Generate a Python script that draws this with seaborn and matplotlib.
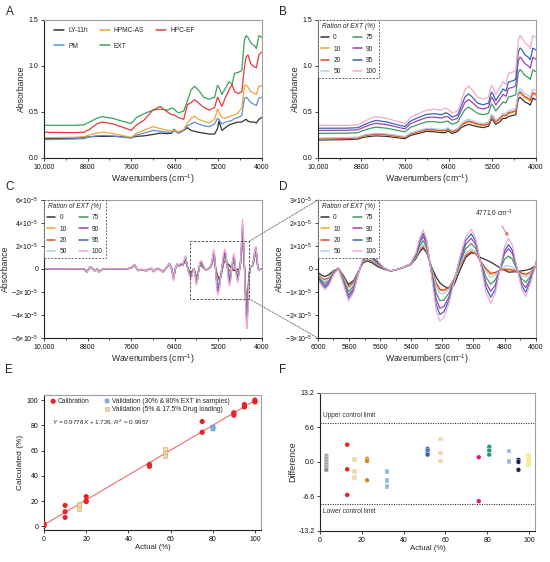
import numpy as np
import pandas as pd
import matplotlib
matplotlib.use("Agg")
import matplotlib.pyplot as plt
import matplotlib.ticker as mticker
from matplotlib.patches import Rectangle, ConnectionPatch, Patch
import seaborn as sns

sns.set_theme(style="ticks")
plt.rcParams['font.family'] = ['Liberation Sans', 'DejaVu Sans']
plt.rcParams['mathtext.fontset'] = 'custom'
plt.rcParams['mathtext.rm'] = 'Liberation Sans'
plt.rcParams['mathtext.it'] = 'Liberation Sans:italic'
plt.rcParams['mathtext.bf'] = 'Liberation Sans:bold'

# ---------------- NIR spectra (panels A, B) ----------------
wn_nir = [10000, 9200, 8900, 8750, 8550, 8400, 8100, 7800, 7600, 7450, 7250, 7000, 6800, 6600,
          6480, 6420, 6300, 6150, 6050, 5950, 5850, 5750, 5600, 5450, 5300, 5220, 5180, 5100,
          5000, 4900, 4820, 4750, 4650, 4550, 4480, 4430, 4380, 4300, 4200, 4150, 4080, 4000]

abs_ly11h = [0.21, 0.215, 0.225, 0.23, 0.235, 0.235, 0.235, 0.23, 0.22, 0.235, 0.24, 0.255, 0.27, 0.265,
             0.27, 0.31, 0.27, 0.30, 0.33, 0.30, 0.29, 0.28, 0.27, 0.26, 0.26, 0.32, 0.40, 0.30,
             0.33, 0.36, 0.37, 0.38, 0.39, 0.39, 0.41, 0.42, 0.40, 0.39, 0.39, 0.38, 0.42, 0.44]
abs_hpmcas = [0.22, 0.225, 0.23, 0.25, 0.27, 0.28, 0.265, 0.24, 0.225, 0.27, 0.30, 0.34, 0.32, 0.30,
              0.295, 0.30, 0.285, 0.31, 0.38, 0.43, 0.455, 0.42, 0.40, 0.38, 0.42, 0.535, 0.50, 0.44,
              0.43, 0.45, 0.46, 0.47, 0.49, 0.55, 0.79, 0.79, 0.77, 0.72, 0.70, 0.69, 0.78, 0.78]
abs_hpcef = [0.28, 0.275, 0.28, 0.31, 0.37, 0.39, 0.37, 0.33, 0.30, 0.36, 0.41, 0.52, 0.56, 0.50,
             0.47, 0.47, 0.44, 0.42, 0.58, 0.60, 0.635, 0.60, 0.55, 0.52, 0.55, 0.66, 0.63, 0.56,
             0.66, 0.74, 0.80, 0.72, 0.70, 0.72, 0.98, 1.10, 1.12, 1.02, 0.99, 0.98, 1.12, 1.15]
abs_pm = [0.20, 0.205, 0.21, 0.23, 0.24, 0.245, 0.24, 0.225, 0.215, 0.25, 0.27, 0.30, 0.29, 0.28,
          0.28, 0.29, 0.275, 0.30, 0.35, 0.37, 0.39, 0.37, 0.35, 0.34, 0.37, 0.43, 0.42, 0.37,
          0.39, 0.40, 0.41, 0.43, 0.44, 0.46, 0.65, 0.66, 0.64, 0.60, 0.58, 0.57, 0.65, 0.66]
abs_ext = [0.355, 0.355, 0.36, 0.39, 0.43, 0.45, 0.43, 0.395, 0.375, 0.44, 0.48, 0.52, 0.53, 0.52,
           0.545, 0.53, 0.49, 0.51, 0.62, 0.74, 0.78, 0.74, 0.66, 0.64, 0.66, 0.79, 0.77, 0.69,
           0.76, 0.83, 0.80, 0.92, 0.93, 0.95, 1.28, 1.33, 1.31, 1.25, 1.22, 1.19, 1.33, 1.31]

mix_0 = [0.195, 0.20, 0.205, 0.225, 0.235, 0.24, 0.235, 0.22, 0.21, 0.245, 0.265, 0.29, 0.285, 0.275,
         0.275, 0.295, 0.265, 0.29, 0.33, 0.35, 0.365, 0.355, 0.34, 0.33, 0.345, 0.42, 0.41, 0.365,
         0.39, 0.43, 0.43, 0.45, 0.46, 0.47, 0.64, 0.66, 0.64, 0.61, 0.59, 0.575, 0.65, 0.635]
mix_10 = [0.206, 0.211, 0.216, 0.237, 0.249, 0.255, 0.249, 0.232, 0.222, 0.259, 0.280, 0.306, 0.302, 0.292,
          0.294, 0.311, 0.281, 0.305, 0.350, 0.377, 0.394, 0.382, 0.362, 0.352, 0.367, 0.446, 0.435, 0.388,
          0.416, 0.458, 0.456, 0.483, 0.493, 0.504, 0.685, 0.707, 0.687, 0.655, 0.634, 0.618, 0.698, 0.682]
mix_20 = [0.209, 0.214, 0.219, 0.240, 0.253, 0.259, 0.253, 0.236, 0.225, 0.263, 0.284, 0.311, 0.307, 0.297,
          0.299, 0.316, 0.285, 0.310, 0.356, 0.385, 0.402, 0.390, 0.369, 0.358, 0.373, 0.453, 0.442, 0.394,
          0.423, 0.466, 0.463, 0.492, 0.502, 0.513, 0.698, 0.720, 0.700, 0.668, 0.647, 0.630, 0.711, 0.696]
mix_50 = [0.217, 0.222, 0.227, 0.248, 0.262, 0.269, 0.262, 0.245, 0.233, 0.272, 0.295, 0.322, 0.319, 0.309,
          0.313, 0.328, 0.297, 0.321, 0.371, 0.405, 0.423, 0.409, 0.385, 0.373, 0.389, 0.472, 0.460, 0.411,
          0.442, 0.486, 0.482, 0.516, 0.526, 0.537, 0.730, 0.754, 0.734, 0.700, 0.678, 0.661, 0.745, 0.730]
mix_75 = [0.267, 0.270, 0.275, 0.299, 0.323, 0.335, 0.323, 0.299, 0.284, 0.333, 0.362, 0.394, 0.395, 0.385,
          0.397, 0.401, 0.366, 0.389, 0.461, 0.526, 0.552, 0.528, 0.484, 0.470, 0.487, 0.587, 0.572, 0.511,
          0.557, 0.610, 0.597, 0.662, 0.672, 0.686, 0.928, 0.962, 0.942, 0.898, 0.874, 0.852, 0.956, 0.939]
mix_90 = [0.299, 0.301, 0.306, 0.332, 0.362, 0.377, 0.362, 0.334, 0.317, 0.372, 0.405, 0.440, 0.444, 0.434,
          0.451, 0.448, 0.411, 0.433, 0.519, 0.604, 0.635, 0.605, 0.548, 0.532, 0.550, 0.661, 0.644, 0.576,
          0.631, 0.690, 0.671, 0.756, 0.766, 0.782, 1.056, 1.096, 1.076, 1.026, 1.000, 0.975, 1.092, 1.074]
mix_95 = [0.323, 0.324, 0.329, 0.357, 0.391, 0.408, 0.391, 0.360, 0.342, 0.401, 0.437, 0.474, 0.481, 0.471,
          0.491, 0.483, 0.445, 0.466, 0.562, 0.662, 0.697, 0.663, 0.596, 0.578, 0.597, 0.716, 0.698, 0.625,
          0.686, 0.750, 0.726, 0.826, 0.836, 0.854, 1.152, 1.196, 1.176, 1.122, 1.094, 1.067, 1.194, 1.175]
mix_100 = abs_ext

# ---------------- 2nd derivative spectra (panels C, D), units of 1e-5 ----------------
wn_d2 = [10000, 9500, 9000, 8900, 8817, 8725, 8606, 8540, 8486, 8376, 8200, 7900, 7700, 7596, 7505,
         7413, 7321, 7250, 7183, 7110, 7046, 6982, 6920, 6862, 6790, 6725, 6633, 6541, 6480, 6431,
         6380, 6330, 6280, 6230, 6180, 6130, 6100, 6060, 6030,
         6000, 5975, 5955, 5930, 5900, 5868, 5835, 5803, 5770, 5740, 5710, 5685, 5655, 5620, 5580,
         5534, 5490, 5450, 5405, 5370, 5345, 5323, 5300, 5270, 5240, 5216, 5190, 5158, 5125, 5090,
         5050, 5014, 4985, 4955, 4920, 4889, 4860, 4830, 4800, 4775, 4750, 4720, 4690, 4664, 4635, 4600,
         4570, 4550, 4532, 4510, 4480, 4450, 4425, 4404, 4385, 4360, 4330, 4300, 4260, 4220, 4190,
         4165, 4140, 4110, 4080, 4040, 4000]

d2_0 = [0.00, 0.00, 0.02, 0.00, -0.22, 0.18, -0.15, 0.00, -0.22, 0.00, 0.02, 0.00, 0.02, 0.08, 0.32,
        -0.12, -0.04, -0.08, -0.16, 0.02, 0.04, -0.20, -0.04, 0.04, -0.08, -0.24, 0.08, 0.42, 0.00, -0.70,
        0.05, 0.35, 0.25, 0.38, 0.32, 0.55, 0.70, 0.30, -0.05,
        -0.15, -0.28, -0.33, -0.25, -0.08, 0.03, -0.30, -0.67, -0.50, -0.10, 0.25, 0.35, 0.28, 0.12, 0.00,
        -0.08, -0.02, 0.06, 0.18, 0.45, 0.75, 0.90, 0.70, 0.10, -0.35, -0.60, -0.75, -0.84, -0.70, -0.10,
        0.50, 0.70, 0.66, 0.50, 0.40, 0.30, 0.18, 0.05, -0.05, -0.14, -0.13, -0.12, -0.08, -0.06, 0.00, 0.14,
        0.90, 1.80, 2.30, 1.85, 0.30, -1.60, -2.50, -2.70, -2.10, -0.80, 0.00, 0.20, 0.25, 0.65, 1.20,
        1.40, 0.95, 0.15, -0.10, 0.00, 0.00]
d2_10 = [0.00, 0.00, 0.02, 0.00, -0.23, 0.18, -0.16, 0.00, -0.23, 0.00, 0.02, 0.00, 0.02, 0.08, 0.33,
         -0.12, -0.04, -0.08, -0.16, 0.02, 0.04, -0.21, -0.04, 0.04, -0.08, -0.25, 0.08, 0.43, 0.00, -0.74,
         0.05, 0.36, 0.26, 0.39, 0.33, 0.59, 0.75, 0.32, -0.07,
         -0.26, -0.41, -0.47, -0.39, -0.12, 0.03, -0.39, -0.79, -0.59, -0.13, 0.29, 0.43, 0.37, 0.21, 0.03,
         -0.09, -0.02, 0.07, 0.20, 0.53, 0.84, 0.99, 0.77, 0.04, -0.63, -0.92, -0.95, -0.82, -0.45, 0.11,
         0.60, 0.78, 0.68, 0.35, -0.01, -0.23, -0.18, -0.05, 0.01, 0.00, -0.02, -0.10, -0.20, -0.26, -0.16, 0.14,
         1.00, 2.00, 2.60, 2.10, 0.35, -1.80, -2.80, -3.00, -2.30, -0.90, 0.00, 0.20, 0.25, 0.70, 1.30,
         1.50, 1.00, 0.15, -0.10, 0.00, 0.00]
d2_20 = [0.00, 0.00, 0.02, 0.00, -0.23, 0.19, -0.16, 0.00, -0.23, 0.00, 0.02, 0.00, 0.02, 0.08, 0.33,
         -0.12, -0.04, -0.08, -0.17, 0.02, 0.04, -0.21, -0.04, 0.04, -0.08, -0.25, 0.08, 0.43, 0.00, -0.75,
         0.05, 0.37, 0.26, 0.40, 0.33, 0.60, 0.76, 0.32, -0.08,
         -0.25, -0.40, -0.46, -0.38, -0.12, 0.03, -0.38, -0.77, -0.58, -0.13, 0.28, 0.42, 0.36, 0.20, 0.03,
         -0.09, -0.02, 0.07, 0.20, 0.52, 0.82, 0.97, 0.75, 0.05, -0.60, -0.88, -0.92, -0.80, -0.45, 0.10,
         0.58, 0.75, 0.66, 0.35, 0.02, -0.19, -0.15, -0.05, -0.02, -0.04, -0.05, -0.10, -0.18, -0.23, -0.14, 0.14,
         1.05, 2.05, 2.70, 2.15, 0.35, -1.85, -2.90, -3.10, -2.40, -0.90, 0.00, 0.20, 0.25, 0.70, 1.32,
         1.52, 1.02, 0.15, -0.10, 0.00, 0.00]
d2_50 = [0.00, 0.00, 0.02, 0.00, -0.24, 0.19, -0.17, 0.00, -0.24, 0.00, 0.02, 0.00, 0.02, 0.09, 0.34,
         -0.13, -0.04, -0.09, -0.17, 0.02, 0.04, -0.22, -0.04, 0.04, -0.09, -0.26, 0.09, 0.44, 0.00, -0.79,
         0.05, 0.38, 0.27, 0.42, 0.34, 0.64, 0.83, 0.35, -0.09,
         -0.28, -0.44, -0.52, -0.42, -0.14, 0.03, -0.42, -0.85, -0.64, -0.14, 0.31, 0.46, 0.40, 0.23, 0.04,
         -0.09, -0.02, 0.07, 0.20, 0.54, 0.89, 1.07, 0.82, 0.01, -0.75, -1.06, -1.07, -0.89, -0.47, 0.15,
         0.69, 0.88, 0.75, 0.34, -0.11, -0.36, -0.27, -0.04, 0.11, 0.14, 0.09, -0.08, -0.27, -0.36, -0.20, 0.14,
         1.10, 2.25, 3.00, 2.40, 0.40, -2.05, -3.15, -3.40, -2.60, -1.00, 0.00, 0.22, 0.27, 0.75, 1.40,
         1.60, 1.08, 0.17, -0.10, 0.00, 0.00]
d2_75 = [0.00, 0.00, 0.02, 0.00, -0.25, 0.20, -0.18, 0.00, -0.25, 0.00, 0.02, 0.00, 0.02, 0.09, 0.36,
         -0.14, -0.04, -0.09, -0.18, 0.02, 0.04, -0.23, -0.04, 0.04, -0.09, -0.27, 0.09, 0.46, 0.00, -0.85,
         0.05, 0.40, 0.28, 0.44, 0.36, 0.70, 0.92, 0.38, -0.10,
         -0.32, -0.52, -0.62, -0.50, -0.17, 0.03, -0.49, -0.99, -0.74, -0.17, 0.36, 0.53, 0.46, 0.27, 0.05,
         -0.09, -0.02, 0.07, 0.21, 0.59, 1.01, 1.23, 0.93, -0.07, -1.03, -1.38, -1.35, -1.05, -0.50, 0.23,
         0.88, 1.10, 0.90, 0.33, -0.35, -0.66, -0.48, -0.03, 0.42, 0.56, 0.43, -0.04, -0.43, -0.58, -0.32, 0.14,
         1.20, 2.45, 3.30, 2.65, 0.42, -2.25, -3.50, -3.80, -2.90, -1.10, 0.00, 0.22, 0.28, 0.80, 1.50,
         1.70, 1.15, 0.18, -0.10, 0.00, 0.00]
d2_90 = [0.00, 0.00, 0.02, 0.00, -0.26, 0.21, -0.19, 0.00, -0.26, 0.00, 0.03, 0.00, 0.03, 0.09, 0.38,
         -0.14, -0.05, -0.09, -0.19, 0.02, 0.05, -0.24, -0.05, 0.05, -0.09, -0.28, 0.09, 0.48, 0.00, -0.91,
         0.05, 0.42, 0.29, 0.46, 0.38, 0.76, 1.02, 0.41, -0.12,
         -0.37, -0.59, -0.72, -0.58, -0.20, 0.03, -0.56, -1.14, -0.84, -0.19, 0.41, 0.60, 0.53, 0.32, 0.06,
         -0.09, -0.02, 0.08, 0.21, 0.63, 1.14, 1.41, 1.06, -0.15, -1.31, -1.71, -1.63, -1.22, -0.53, 0.31,
         1.07, 1.33, 1.06, 0.31, -0.60, -0.97, -0.70, -0.02, 0.68, 0.88, 0.68, 0.00, -0.59, -0.81, -0.43, 0.14,
         1.35, 2.80, 3.80, 3.05, 0.45, -2.65, -4.20, -4.55, -3.50, -1.30, 0.00, 0.24, 0.28, 0.85, 1.58,
         1.80, 1.20, 0.18, -0.10, 0.00, 0.00]
d2_95 = [0.00, 0.00, 0.02, 0.00, -0.27, 0.21, -0.19, 0.00, -0.26, 0.00, 0.03, 0.00, 0.03, 0.10, 0.39,
         -0.15, -0.05, -0.10, -0.19, 0.02, 0.05, -0.24, -0.05, 0.05, -0.10, -0.29, 0.10, 0.49, 0.00, -0.95,
         0.05, 0.44, 0.29, 0.48, 0.39, 0.80, 1.08, 0.43, -0.14,
         -0.41, -0.66, -0.81, -0.65, -0.22, 0.03, -0.62, -1.27, -0.92, -0.21, 0.45, 0.66, 0.58, 0.36, 0.07,
         -0.09, -0.02, 0.08, 0.22, 0.66, 1.24, 1.55, 1.16, -0.21, -1.54, -1.98, -1.86, -1.36, -0.56, 0.38,
         1.24, 1.53, 1.19, 0.29, -0.80, -1.23, -0.89, -0.01, 0.79, 1.06, 0.81, 0.03, -0.73, -1.01, -0.53, 0.15,
         1.35, 2.75, 3.70, 2.95, 0.45, -2.55, -3.95, -4.30, -3.30, -1.25, 0.00, 0.24, 0.29, 0.88, 1.65,
         1.90, 1.25, 0.19, -0.10, 0.00, 0.00]
d2_100 = [0.00, 0.00, 0.02, 0.00, -0.28, 0.22, -0.20, 0.00, -0.27, 0.00, 0.03, 0.00, 0.03, 0.10, 0.40,
          -0.15, -0.05, -0.10, -0.20, 0.02, 0.05, -0.25, -0.05, 0.05, -0.10, -0.30, 0.10, 0.50, 0.00, -1.00,
          0.05, 0.45, 0.30, 0.50, 0.40, 0.85, 1.15, 0.45, -0.15,
          -0.45, -0.72, -0.90, -0.72, -0.25, 0.03, -0.68, -1.39, -1.01, -0.23, 0.49, 0.72, 0.64, 0.40, 0.08,
          -0.09, -0.02, 0.08, 0.22, 0.70, 1.35, 1.70, 1.26, -0.28, -1.78, -2.26, -2.10, -1.50, -0.59, 0.45,
          1.40, 1.72, 1.32, 0.28, -1.01, -1.49, -1.07, 0.00, 0.99, 1.33, 1.03, 0.06, -0.87, -1.20, -0.63, 0.16,
          1.50, 3.20, 4.35, 3.50, 0.50, -3.00, -4.80, -5.20, -4.00, -1.50, 0.00, 0.25, 0.30, 0.90, 1.70,
          1.95, 1.30, 0.20, -0.10, 0.00, 0.00]

# ---------------- panel E ----------------
cal_actual = [0, 0, 0, 10, 10, 10, 20, 20, 20, 50, 50, 50, 75, 75, 90, 90, 90, 95, 95, 95, 100, 100, 100]
cal_pred = [0.3, 1.0, 1.8, 16.5, 11.5, 7.0, 23.5, 19.5, 20.0, 49.0, 48.0, 47.5, 83.0, 74.5,
            90.0, 88.0, 89.0, 96.5, 95.0, 94.5, 100.0, 99.0, 98.5]
val_ext_actual = [80, 80, 80]
val_ext_pred = [79.0, 78.0, 77.0]
val_dl_actual = [16.5, 16.5, 16.5, 57.5, 57.5, 57.5]
val_dl_pred = [18.0, 16.5, 14.0, 61.0, 58.0, 55.5]

# ---------------- panel F ----------------
f_groups = ["c0", "c10", "v5", "c20", "v30", "c50", "v17", "c75", "c80", "v80", "c95", "c100"]
f_actual = [3, 13, 16.5, 22.5, 32, 51.5, 57.5, 76, 81, 90.5, 95, 100]
f_diffs = [[1.2, 0.9, 0.6, 0.3, 0.0, -0.3, -0.6, -0.9, -1.2, -1.5],
           [3.3, -1.4, -6.3], [0.4, -1.8, -2.9], [0.6, 0.2, -3.5], [-1.8, -3.6, -4.7],
           [2.5, 2.2, 1.7, 1.4], [4.4, 1.7, 0.2], [0.9, -7.5], [2.9, 2.2, 1.4],
           [2.1, 0.1], [0.4, 0.0, -1.5], [1.2, 0.4, -0.5]]
f_colors = ['#8f8f8f', '#e3201f', '#ecd9a8', '#d68a22', '#8db8e3', '#2f5da8', '#ecd9a8',
            '#e5197b', '#1f9e6a', '#8db8e3', '#1e1b4d', '#f4ec86']
f_markers = ['o', 'o', 's', 'o', 's', 'o', 's', 'o', 'o', 's', 'o', 's']
ucl, lcl = 7.5, -8.0

sample_names = ['LY-11h', 'PM', 'HPMC-AS', 'EXT', 'HPC-EF']
sample_colors = {'LY-11h': '#333333', 'HPMC-AS': '#f2a33a', 'HPC-EF': '#e8383d',
                 'PM': '#5b8fd6', 'EXT': '#3aa35a'}
ratio_names = ['0', '10', '20', '50', '75', '90', '95', '100']
ratio_colors = {'0': '#333333', '10': '#f5a623', '20': '#e8452c', '50': '#a9cdee',
                '75': '#3b9c5c', '90': '#9c42b3', '95': '#3a63b9', '100': '#f5a9cb'}

mix_curves = [mix_0, mix_10, mix_20, mix_50, mix_75, mix_90, mix_95, mix_100]
d2_curves = [d2_0, d2_10, d2_20, d2_50, d2_75, d2_90, d2_95, d2_100]
sample_curves = {'LY-11h': abs_ly11h, 'PM': abs_pm, 'HPMC-AS': abs_hpmcas, 'EXT': abs_ext, 'HPC-EF': abs_hpcef}

df_a = pd.concat([pd.DataFrame({'wn': wn_nir, 'val': sample_curves[n], 'grp': n}) for n in sample_names])
df_b = pd.concat([pd.DataFrame({'wn': wn_nir, 'val': c, 'grp': n}) for n, c in zip(ratio_names, mix_curves)])
df_c = pd.concat([pd.DataFrame({'wn': wn_d2, 'val': c, 'grp': n}) for n, c in zip(ratio_names, d2_curves)])

TICK = 5
LAB = 6.2
LEG = 4.8

fig = plt.figure(figsize=(5.5, 5.62), dpi=100)
ax_a = fig.add_axes([0.080, 0.7189, 0.396, 0.2456])
ax_b = fig.add_axes([0.578, 0.7189, 0.396, 0.2456])
ax_c = fig.add_axes([0.080, 0.3986, 0.396, 0.2456])
ax_d = fig.add_axes([0.578, 0.3986, 0.396, 0.2456])
ax_e = fig.add_axes([0.080, 0.0569, 0.395, 0.2402])
ax_f = fig.add_axes([0.582, 0.0552, 0.391, 0.2456])


def style_axes(ax):
    for side in ['left', 'bottom']:
        ax.spines[side].set_color('#222222')
        ax.spines[side].set_linewidth(0.8)
    for side in ['top', 'right']:
        ax.spines[side].set_color('#a0a0a0')
        ax.spines[side].set_linewidth(0.8)
    ax.tick_params(which='major', direction='out', length=2.5, width=0.6, labelsize=TICK,
                   pad=1.5, color='#222222', labelcolor='#111111')
    ax.tick_params(which='minor', direction='out', length=1.6, width=0.5, color='#222222')


def nir_xaxis(ax):
    ax.set_xlim(10000, 4000)
    ax.set_xticks([10000, 8800, 7600, 6400, 5200, 4000])
    ax.set_xticklabels(['10,000', '8800', '7600', '6400', '5200', '4000'])
    ax.xaxis.set_minor_locator(mticker.FixedLocator([9400, 8200, 7000, 5800, 4600]))
    ax.set_xlabel('Wavenumbers (cm$^{-1}$)', fontsize=LAB, labelpad=1)


def ratio_legend(ax):
    sns.move_legend(ax, 'upper left', bbox_to_anchor=(0, 1), borderaxespad=0, ncol=2,
                    title='Ration of EXT (%)', fontsize=LEG, title_fontsize=LEG, frameon=True,
                    fancybox=False, handlelength=1.25, columnspacing=1.9, labelspacing=0.65,
                    handletextpad=0.6, borderpad=0.45)
    leg = ax.get_legend()
    leg.get_title().set_fontstyle('italic')
    fr = leg.get_frame()
    fr.set_edgecolor('#666666')
    fr.set_linestyle((0, (2, 1.5)))
    fr.set_linewidth(0.7)
    fr.set_facecolor('white')
    fr.set_alpha(1)
    for h in leg.legend_handles:
        h.set_linewidth(1.1)


def d2_formatter(v, pos):
    if abs(v) < 1e-9:
        return '0'
    return r'$%d{\times}10^{-5}$' % int(round(v))


# ---- A ----
sns.lineplot(data=df_a, x='wn', y='val', hue='grp', hue_order=sample_names, palette=sample_colors,
             ax=ax_a, linewidth=0.9, errorbar=None, sort=False)
sns.move_legend(ax_a, 'upper left', bbox_to_anchor=(0.035, 0.965), ncol=3, title=None, fontsize=LEG,
                frameon=False, handlelength=1.5, columnspacing=1.8, labelspacing=1.25, handletextpad=0.6,
                borderaxespad=0)
for h in ax_a.get_legend().legend_handles:
    h.set_linewidth(1.1)
ax_a.set_ylim(0, 1.5)
ax_a.set_yticks([0, 0.5, 1.0, 1.5])
ax_a.yaxis.set_major_formatter(mticker.FormatStrFormatter('%.1f'))
ax_a.set_ylabel('Absorbance', fontsize=LAB, labelpad=2)
nir_xaxis(ax_a)

# ---- B ----
sns.lineplot(data=df_b, x='wn', y='val', hue='grp', hue_order=ratio_names, palette=ratio_colors,
             ax=ax_b, linewidth=0.9, errorbar=None, sort=False)
ratio_legend(ax_b)
ax_b.set_ylim(0, 1.5)
ax_b.set_yticks([0, 0.5, 1.0, 1.5])
ax_b.yaxis.set_major_formatter(mticker.FormatStrFormatter('%.1f'))
ax_b.set_ylabel('Absorbance', fontsize=LAB, labelpad=2)
nir_xaxis(ax_b)

# ---- C ----
sns.lineplot(data=df_c, x='wn', y='val', hue='grp', hue_order=ratio_names, palette=ratio_colors,
             ax=ax_c, linewidth=0.9, errorbar=None, sort=False)
ratio_legend(ax_c)
ax_c.set_ylim(-6, 6)
ax_c.set_yticks([-6, -4, -2, 0, 2, 4, 6])
ax_c.yaxis.set_major_formatter(mticker.FuncFormatter(d2_formatter))
ax_c.set_ylabel('Absorbance', fontsize=LAB, labelpad=1)
nir_xaxis(ax_c)
box_left, box_right, box_low, box_high = 5970, 4350, -2.6, 2.4
ax_c.add_patch(Rectangle((box_right, box_low), box_left - box_right, box_high - box_low, fill=False,
                         ec='#555555', lw=0.7, ls=(0, (2.5, 1.5)), zorder=5))

# ---- D ----
sns.lineplot(data=df_c, x='wn', y='val', hue='grp', hue_order=ratio_names, palette=ratio_colors,
             ax=ax_d, linewidth=0.9, errorbar=None, sort=False)
ratio_legend(ax_d)
ax_d.set_xlim(6000, 4600)
ax_d.set_xticks(range(6000, 4599, -200))
ax_d.xaxis.set_minor_locator(mticker.MultipleLocator(100))
ax_d.set_ylim(-3, 3)
ax_d.set_yticks([-3, -2, -1, 0, 1, 2, 3])
ax_d.yaxis.set_major_formatter(mticker.FuncFormatter(d2_formatter))
ax_d.set_ylabel('Absorbance', fontsize=LAB, labelpad=1)
ax_d.set_xlabel('Wavenumbers (cm$^{-1}$)', fontsize=LAB, labelpad=1)
ax_d.annotate('4771.0 cm$^{-1}$', xy=(4775, 1.42), xytext=(4868, 2.4), ha='center', va='center',
              fontsize=LEG, color='#222222',
              arrowprops=dict(arrowstyle='-|>', color='#e8706a', lw=0.7, mutation_scale=5,
                              shrinkA=3, shrinkB=0))

for yc, yd in [(box_high, 1), (box_low, 0)]:
    con = ConnectionPatch(xyA=(box_right, yc), coordsA=ax_c.transData, xyB=(0, yd),
                          coordsB=ax_d.transAxes, color='#777777', lw=0.7, ls=(0, (1.5, 1.5)))
    fig.add_artist(con)

# ---- E ----
sns.regplot(x=cal_actual, y=cal_pred, ax=ax_e, scatter=False, ci=None, truncate=True,
            line_kws=dict(color='#f06b6b', lw=0.8, zorder=2))
sns.scatterplot(x=cal_actual, y=cal_pred, ax=ax_e, color='#e4262a', s=14, edgecolor='none',
                label='Calibration', zorder=3)
sns.scatterplot(x=val_ext_actual, y=val_ext_pred, ax=ax_e, marker='s', color='#7fb0e0',
                edgecolor='#5f90c6', linewidth=0.3, s=12, zorder=3,
                label='Validation (30% & 80% EXT in samples)')
sns.scatterplot(x=val_dl_actual, y=val_dl_pred, ax=ax_e, marker='s', color='#f0dba8',
                edgecolor='#c8ae6e', linewidth=0.4, s=12, zorder=3,
                label='Validation (5% & 17.5% Drug loading)')
h, l = ax_e.get_legend_handles_labels()
blank = Patch(visible=False, label='')
ax_e.legend([h[0], blank, h[1], h[2]], [l[0], '', l[1], l[2]], loc='upper left',
            bbox_to_anchor=(0.01, 1.0), ncol=2, fontsize=LEG, frameon=False, handletextpad=0.1,
            handlelength=1.2, columnspacing=2.0, labelspacing=0.12, borderaxespad=0.15,
            borderpad=0.3)
ax_e.text(0.035, 0.80, r'$Y$ = 0.9778$X$ + 1.726, $R^2$ = 0.9957', transform=ax_e.transAxes,
          fontsize=4.6, color='#222222', va='center')
ax_e.set_xlim(0, 103)
ax_e.set_ylim(-3, 104)
ax_e.set_xticks(range(0, 101, 20))
ax_e.set_yticks(range(0, 101, 20))
ax_e.set_xlabel('Actual (%)', fontsize=5.6, labelpad=1)
ax_e.set_ylabel('Calculated (%)', fontsize=6, labelpad=2)

# ---- F ----
rows = []
for g, x, ds in zip(f_groups, f_actual, f_diffs):
    for d in ds:
        rows.append({'actual': x, 'diff': d, 'grp': g})
df_f = pd.DataFrame(rows)
sns.scatterplot(data=df_f, x='actual', y='diff', hue='grp', style='grp',
                palette=dict(zip(f_groups, f_colors)), markers=dict(zip(f_groups, f_markers)),
                s=12, edgecolor='white', linewidth=0.3, legend=False, ax=ax_f, zorder=3)
ax_f.axhline(ucl, color='#333333', lw=0.8, ls=(0, (1, 1.2)))
ax_f.axhline(lcl, color='#333333', lw=0.8, ls=(0, (1, 1.2)))
ax_f.text(1.5, 8.8, 'Upper control limit', fontsize=4.7, va='center', color='#333333')
ax_f.text(1.5, -9.4, 'Lower control limit', fontsize=4.7, va='center', color='#333333')
ax_f.set_xlim(0, 103)
ax_f.set_ylim(-13.2, 13.2)
ax_f.set_yticks([-13.2, -6.6, 0, 6.6, 13.2])
ax_f.yaxis.set_major_formatter(mticker.FormatStrFormatter('%.1f'))
ax_f.set_xticks(range(0, 101, 20))
ax_f.set_xlabel('Actual (%)', fontsize=5.6, labelpad=1)
ax_f.set_ylabel('Difference', fontsize=6.4, labelpad=1)

for ax in [ax_a, ax_b, ax_c, ax_d, ax_e, ax_f]:
    style_axes(ax)

for letter, x, y in [('A', 0.010, 0.978), ('B', 0.508, 0.978), ('C', 0.010, 0.667),
                     ('D', 0.508, 0.667), ('E', 0.010, 0.342), ('F', 0.508, 0.342)]:
    fig.text(x, y, letter, fontsize=8.5, va='center', ha='left')

fig.savefig('out.png', dpi=100)
